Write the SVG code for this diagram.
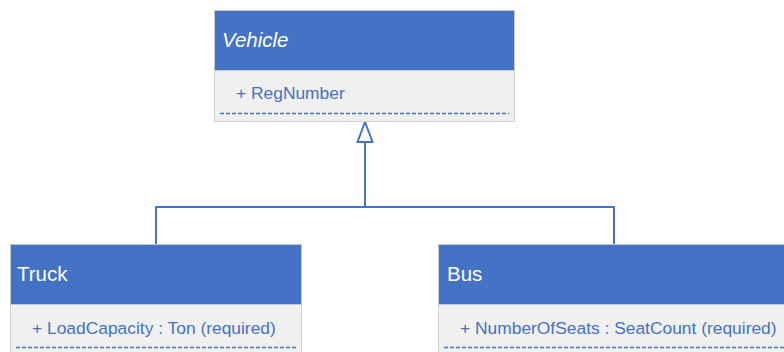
<svg xmlns="http://www.w3.org/2000/svg" width="784" height="352" viewBox="0 0 784 352">
  <style>
    .head { fill: #4472C4; stroke: #C8C8C8; stroke-width: 1; }
    .body { fill: #F0F0F0; stroke: #D0D0D0; stroke-width: 1; }
    .title { font-family: "Liberation Sans", Arial, sans-serif; font-size: 20.5px; fill: #FFFFFF; }
    .attr { font-family: "Liberation Sans", Arial, sans-serif; font-size: 17.4px; fill: #4472C4; }
    .sep { stroke: #4472C4; stroke-width: 1.5; stroke-dasharray: 4 2; fill: none; }
    .link { stroke: #4472C4; stroke-width: 2; fill: none; }
  </style>
  <rect width="784" height="352" fill="#FFFFFF"/>

  <!-- generalization: both subclasses join one trunk to the parent -->
  <g id="connectors">
    <polyline class="link" points="156,244 156,207 614,207 614,244"/>
    <line class="link" x1="365" y1="207" x2="365" y2="142"/>
    <polygon points="365,122 372.5,142 357.5,142" fill="#FFFFFF" stroke="#4472C4" stroke-width="2"/>
  </g>

  <g id="vehicle">
    <rect class="body" x="214.5" y="70.5" width="300" height="51"/>
    <rect class="head" x="214.5" y="10.5" width="300" height="60"/>
    <text class="title" x="222" y="47" font-style="italic">Vehicle</text>
    <text class="attr" x="236" y="99">+ RegNumber</text>
    <line class="sep" x1="220" y1="113.5" x2="509" y2="113.5"/>
  </g>

  <g id="truck">
    <rect class="body" x="10.5" y="304.5" width="291" height="60"/>
    <rect class="head" x="10.5" y="244.5" width="291" height="60"/>
    <text class="title" x="17" y="281">Truck</text>
    <text class="attr" x="32" y="334">+ LoadCapacity : Ton (required)</text>
    <line class="sep" x1="16" y1="347.5" x2="296" y2="347.5"/>
  </g>

  <g id="bus">
    <rect class="body" x="438.5" y="304.5" width="360" height="60"/>
    <rect class="head" x="438.5" y="244.5" width="360" height="60"/>
    <text class="title" x="447" y="281">Bus</text>
    <text class="attr" x="460" y="334">+ NumberOfSeats : SeatCount (required)</text>
    <line class="sep" x1="444" y1="347.5" x2="784" y2="347.5"/>
  </g>
</svg>
